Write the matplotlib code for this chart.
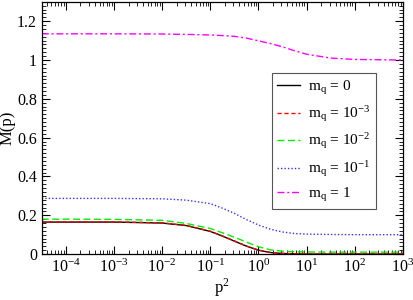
import numpy as np
import matplotlib
matplotlib.use("Agg")
import matplotlib.pyplot as plt
from matplotlib.ticker import LogLocator, MultipleLocator, FormatStrFormatter

plt.rcParams['font.family'] = ['Liberation Serif', 'DejaVu Serif']
plt.rcParams['mathtext.fontset'] = 'stix'

# log10(p^2) sample points
log_p2 = [-4.5, -4, -3, -2, -1.5, -1, -0.75, -0.5, -0.25, 0, 0.25, 0.5, 0.75, 1, 1.5, 2, 3]
p2 = [10.0 ** v for v in log_p2]

m_0    = [0.165, 0.165, 0.165, 0.160, 0.147, 0.117, 0.093, 0.067, 0.041, 0.020, 0.008, 0.003, 0.001, 0.0, 0.0, 0.0, 0.0]
m_1e_3 = [0.166, 0.166, 0.166, 0.161, 0.148, 0.118, 0.094, 0.068, 0.042, 0.021, 0.009, 0.004, 0.002, 0.001, 0.001, 0.001, 0.001]
m_1e_2 = [0.180, 0.180, 0.179, 0.174, 0.158, 0.132, 0.110, 0.087, 0.062, 0.038, 0.022, 0.015, 0.012, 0.011, 0.010, 0.010, 0.010]
m_1e_1 = [0.287, 0.287, 0.287, 0.285, 0.278, 0.260, 0.237, 0.210, 0.178, 0.150, 0.128, 0.114, 0.106, 0.103, 0.101, 0.100, 0.100]
m_1    = [1.135, 1.135, 1.135, 1.134, 1.132, 1.129, 1.126, 1.122, 1.113, 1.099, 1.085, 1.068, 1.048, 1.030, 1.010, 1.003, 1.000]

x_ticks = [1e-4, 1e-3, 1e-2, 1e-1, 1e0, 1e1, 1e2, 1e3]

labels = [r'm$_\mathregular{q}$ = 0',
          r'm$_\mathregular{q}$ = 10$^\mathregular{-3}$',
          r'm$_\mathregular{q}$ = 10$^\mathregular{-2}$',
          r'm$_\mathregular{q}$ = 10$^\mathregular{-1}$',
          r'm$_\mathregular{q}$ = 1']

fig = plt.figure(figsize=(4.14, 3.0), dpi=100)
ax = fig.add_axes([0.101, 0.153, 0.872, 0.841])

ax.plot(p2, m_0, color='black', lw=1.0, label=labels[0])
ax.plot(p2, m_1e_3, color='#ff0000', lw=1.0, dashes=(3, 2), label=labels[1])
ax.plot(p2, m_1e_2, color='#00ee00', lw=1.0, dashes=(5, 2.5), label=labels[2])
ax.plot(p2, m_1e_1, color='#3333ff', lw=1.0, dashes=(1, 1.5), label=labels[3])
ax.plot(p2, m_1, color='#ff00ff', lw=1.0, dashes=(5, 2, 1.5, 2), label=labels[4])

ax.set_xscale('log')
ax.set_xlim(10 ** -4.5, 1e3)
ax.set_ylim(0, 1.3)
ax.set_xticks(x_ticks)
ax.xaxis.set_minor_locator(LogLocator(base=10, subs=np.arange(2, 10), numticks=20))
ax.yaxis.set_major_locator(MultipleLocator(0.2))
ax.yaxis.set_minor_locator(MultipleLocator(0.02))
ax.yaxis.set_major_formatter(FormatStrFormatter('%g'))

ax.tick_params(which='both', direction='in', top=True, right=True, labelsize=11.5)
ax.tick_params(which='major', length=6, width=0.8)
ax.tick_params(which='minor', length=3, width=0.6)
for s in ax.spines.values():
    s.set_linewidth(0.9)

ax.set_xlabel(r'p$^\mathregular{2}$', fontsize=12, labelpad=0)
ax.set_ylabel('M(p)', fontsize=12, labelpad=1)

leg = ax.legend(loc='upper right', bbox_to_anchor=(0.925, 0.717), borderaxespad=0,
                fontsize=11, handlelength=1.5, handletextpad=0.5, labelspacing=0.45,
                fancybox=False, framealpha=1, edgecolor='#555555', borderpad=0.35)
leg.get_frame().set_linewidth(0.8)

fig.savefig('out.png', dpi=100)
